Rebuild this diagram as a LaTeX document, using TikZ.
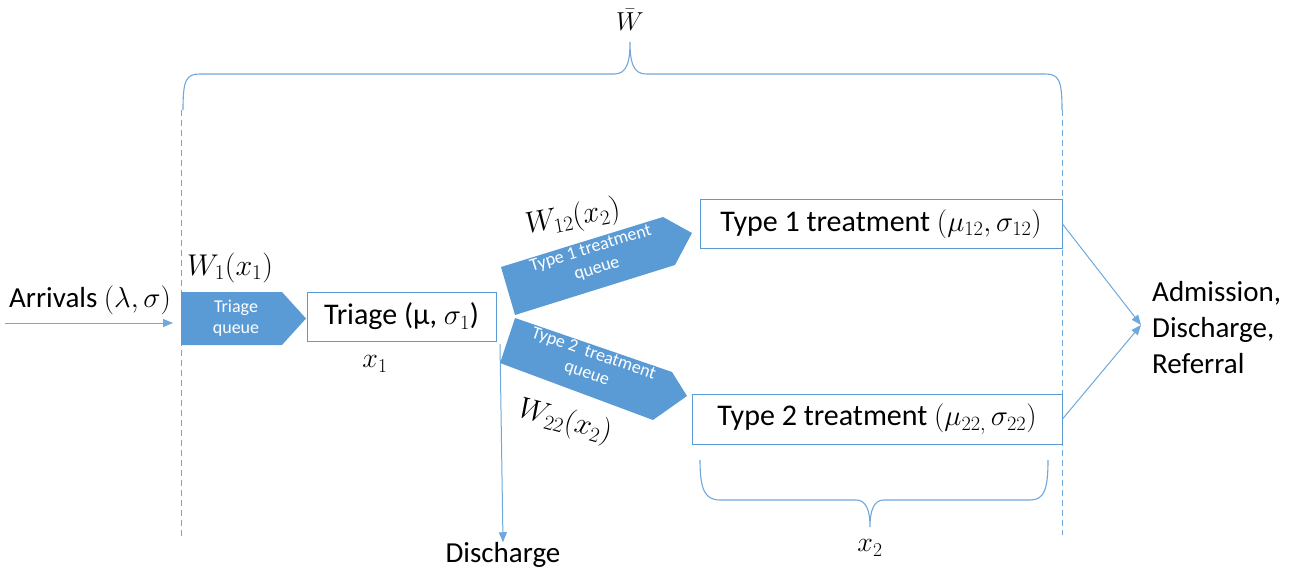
\RequirePackage{fix-cm}
\documentclass[tikz,border=0pt]{standalone}
\usepackage{fontspec}
\setmainfont{Carlito}
\usetikzlibrary{arrows.meta}
\definecolor{qblue}{HTML}{5B9BD5}
\definecolor{lblue}{HTML}{6FA8DC}
\newcommand\mybigmath[1]{{\fontsize{29}{34}\selectfont$#1$}}
\tikzset{
  txt/.style={font=\fontsize{29}{36}\selectfont, inner sep=0pt},
  mtxt/.style={font=\fontsize{30}{34}\selectfont, inner sep=0pt},
  xtxt/.style={font=\fontsize{28}{32}\selectfont, inner sep=0pt},
  wtxt/.style={font=\fontsize{26}{30}\selectfont, inner sep=0pt},
  qtxt/.style={font=\fontsize{18}{21}\selectfont, text=white, align=center, inner sep=0pt},
  box/.style={draw=qblue, line width=1pt, fill=white, font=\fontsize{30}{34}\selectfont, inner sep=0pt},
  qshape/.style={fill=qblue, draw=none},
  conn/.style={draw=lblue, line width=1pt, -{Triangle[width=8pt,length=10pt]}},
  dashline/.style={draw=lblue, line width=1pt, dash pattern=on 6pt off 4pt},
  bracestyle/.style={draw=lblue, line width=1.1pt},
}
\begin{document}
\begin{tikzpicture}[x=1pt,y=-1pt]
\useasboundingbox (0,0) rectangle (1299,572);
% top brace and label
\node[wtxt] (wbar) at (630,20) {$\bar{W}$};
\draw[bracestyle] (183,110) .. controls (183,80) and (186,74) .. (200,74) -- (614,74)
  .. controls (627,74) and (630,62) .. (630,42)
  .. controls (630,62) and (633,74) .. (646,74) -- (1045,74)
  .. controls (1059,74) and (1062,80) .. (1062,110);
% dashed verticals
\coordinate (dl0) at (181,110); \coordinate (dl1) at (181,540);
\coordinate (dr0) at (1062,110); \coordinate (dr1) at (1062,535);
\draw[dashline] (dl0) -- (dl1);
\draw[dashline] (dr0) -- (dr1);
% arrivals
\node[txt, anchor=west] (arr) at (9,300) {Arrivals \mybigmath{(\lambda,\sigma)}};
\coordinate (a0) at (5,323);
\coordinate (a1) at (173,323);
\draw[conn] (a0) -- (a1);
% triage queue
\path[qshape] (181,292) -- (282,292) -- (306,318.5) -- (282,345) -- (181,345) -- cycle;
\node[qtxt] (tq) at (236,318) {Triage\\queue};
\node[mtxt] (w1) at (230,268) {$W_1(x_1)$};
% triage box
\node[box, minimum width=189pt, minimum height=49pt] (tr) at (401.5,316.5) {Triage (μ, \mybigmath{\sigma_1})};
\node[xtxt] (x1) at (375,364) {$x_1$};
% discharge
\node[txt] (dis) at (503,555) {Discharge};
\coordinate (d0) at (500,344);
\draw[conn] (d0) -- (dis.north);
% type 1 queue
\path[qshape] (501,267) -- (663,217) -- (692,233) -- (675,265) -- (515,315) -- cycle;
\node[qtxt, rotate=17] (q1) at (594,259) {Type 1 treatment\\queue};
\node[mtxt, rotate=10] (w12) at (573,218) {$W_{12}(x_2)$};
% type 2 queue
\path[qshape] (515,318) -- (672,372) -- (687,396) -- (653,420) -- (500,363) -- cycle;
\node[qtxt, rotate=-19] (q2) at (590,364) {Type 2\ \ treatment\\queue};
\node[mtxt, rotate=-15] (w22) at (565,422) {$W_{22}(x_2)$};
% treatment boxes
\node[box, minimum width=362pt, minimum height=49pt] (t1) at (881,224) {Type 1 treatment \mybigmath{(\mu_{12},\sigma_{12})}};
\node[box, minimum width=370pt, minimum height=50pt] (t2) at (877,419) {Type 2 treatment \mybigmath{(\mu_{22,}\,\sigma_{22})}};
% outcome
\coordinate (adm) at (1141,325);
\draw[conn] (t1.east) -- (adm);
\draw[conn] (t2.east) -- (adm);
\node[txt, anchor=west, align=left] (out) at (1152,328) {Admission,\\Discharge,\\Referral};
% bottom brace
\draw[bracestyle] (700,460) .. controls (700,490) and (705,500) .. (720,500) -- (856,500)
  .. controls (866,500) and (870,510) .. (870,527)
  .. controls (870,510) and (874,500) .. (884,500) -- (1030,500)
  .. controls (1044,500) and (1048,490) .. (1048,460);
\node[xtxt] (x2) at (870,548) {$x_2$};
\end{tikzpicture}
\end{document}
